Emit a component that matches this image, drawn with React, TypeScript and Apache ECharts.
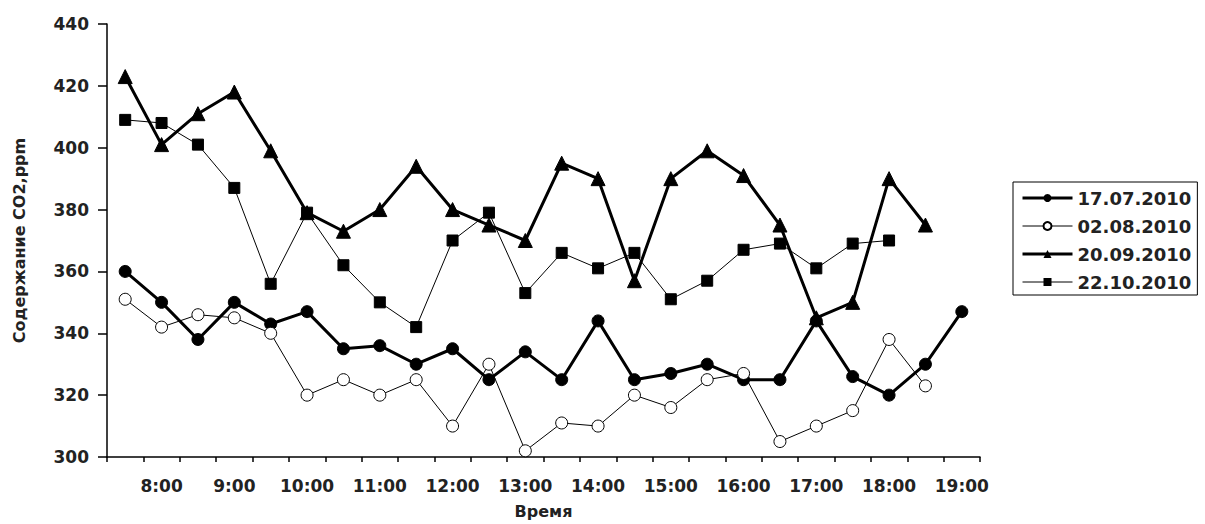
import React, { useEffect, useRef } from "react";
import * as echarts from "echarts";

const categories = [
  "7:30", "8:00", "8:30", "9:00", "9:30", "10:00", "10:30", "11:00", "11:30", "12:00",
  "12:30", "13:00", "13:30", "14:00", "14:30", "15:00", "15:30", "16:00", "16:30", "17:00",
  "17:30", "18:00", "18:30", "19:00",
];

const s1707 = [360, 350, 338, 350, 343, 347, 335, 336, 330, 335, 325, 334, 325, 344, 325, 327, 330, 325, 325, 344, 326, 320, 330, 347];
const s0208 = [351, 342, 346, 345, 340, 320, 325, 320, 325, 310, 330, 302, 311, 310, 320, 316, 325, 327, 305, 310, 315, 338, 323];
const s2009 = [423, 401, 411, 418, 399, 379, 373, 380, 394, 380, 375, 370, 395, 390, 357, 390, 399, 391, 375, 345, 350, 390, 375];
const s2210 = [409, 408, 401, 387, 356, 379, 362, 350, 342, 370, 379, 353, 366, 361, 366, 351, 357, 367, 369, 361, 369, 370];

const seriesNames = ["17.07.2010", "02.08.2010", "20.09.2010", "22.10.2010"];
const lineWidths = [3, 1, 3, 1];

const FONT = "DejaVu Sans";
const TXT = "#222";

export default function App() {
  const ref = useRef<HTMLDivElement>(null);

  useEffect(() => {
    if (!ref.current) return;
    const chart = echarts.init(ref.current, null, { renderer: "svg" });
    chart.setOption({
      animation: false,
      backgroundColor: "#ffffff",
      grid: { left: 107, right: 225, top: 24, bottom: 67, containLabel: false },
      legend: {
        orient: "vertical",
        left: 1013,
        top: 182,
        padding: [6, 6, 3, 8],
        borderColor: "#000",
        borderWidth: 1,
        itemWidth: 50,
        itemHeight: 10,
        itemGap: 8,
        textStyle: { fontFamily: FONT, fontWeight: "bold", fontSize: 18, color: TXT, lineHeight: 20 },
        data: seriesNames.map((n, i) => ({ name: n, lineStyle: { width: lineWidths[i], color: "#000" } })),
      },
      xAxis: {
        type: "category",
        data: categories,
        boundaryGap: true,
        name: "Время",
        nameLocation: "middle",
        nameGap: 46,
        nameTextStyle: { fontFamily: FONT, fontWeight: "bold", fontSize: 16, color: TXT },
        axisLine: { lineStyle: { color: "#000", width: 1.5 } },
        axisTick: { show: true, interval: 0, length: 5, inside: false, lineStyle: { color: "#000", width: 1.5 } },
        axisLabel: {
          interval: (i: number) => i % 2 === 1,
          margin: 20,
          fontFamily: FONT,
          fontWeight: "bold",
          fontSize: 17,
          color: TXT,
        },
        splitLine: { show: false },
      },
      yAxis: {
        type: "value",
        min: 300,
        max: 440,
        interval: 20,
        name: "Содержание CO2,ppm",
        nameLocation: "middle",
        nameGap: 80,
        nameRotate: 90,
        nameTextStyle: { fontFamily: FONT, fontWeight: "bold", fontSize: 16, color: TXT },
        axisLine: { show: true, lineStyle: { color: "#000", width: 1.5 } },
        axisTick: { show: true, length: 9, lineStyle: { color: "#000", width: 1.5 } },
        axisLabel: { margin: 18, fontFamily: FONT, fontWeight: "bold", fontSize: 17, color: TXT },
        splitLine: { show: false },
      },
      series: [
        {
          name: seriesNames[0],
          type: "line",
          data: s1707,
          symbol: "circle",
          symbolSize: 12,
          lineStyle: { color: "#000", width: lineWidths[0] },
          itemStyle: { color: "#000", borderColor: "#000" },
        },
        {
          name: seriesNames[1],
          type: "line",
          data: s0208,
          symbol: "circle",
          symbolSize: 12,
          lineStyle: { color: "#000", width: lineWidths[1] },
          itemStyle: { color: "#fff", borderColor: "#000", borderWidth: 1 },
        },
        {
          name: seriesNames[2],
          type: "line",
          data: s2009,
          symbol: "triangle",
          symbolSize: 14,
          lineStyle: { color: "#000", width: lineWidths[2] },
          itemStyle: { color: "#000", borderColor: "#000" },
        },
        {
          name: seriesNames[3],
          type: "line",
          data: s2210,
          symbol: "rect",
          symbolSize: 11,
          lineStyle: { color: "#000", width: lineWidths[3] },
          itemStyle: { color: "#000", borderColor: "#000" },
        },
      ],
    });
    return () => chart.dispose();
  }, []);

  return (
    <div
      ref={ref}
      style={{ position: "fixed", left: 0, top: 0, width: 1205, height: 524, background: "#fff" }}
    />
  );
}
